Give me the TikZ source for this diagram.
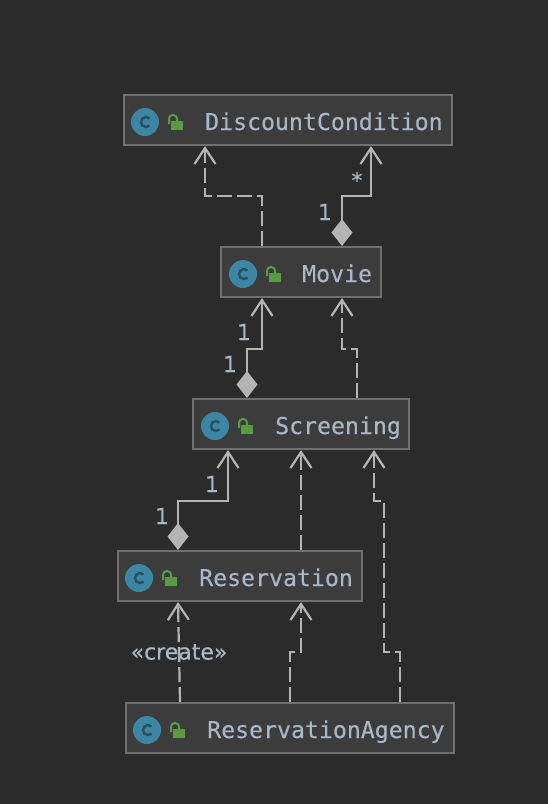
\documentclass[tikz,border=0pt]{standalone}
\usepackage{fontspec}
\setmainfont[FakeBold=0.25]{DejaVu Sans}
\newfontfamily\codefont[FakeBold=0.25]{DejaVu Sans Mono}
\usetikzlibrary{arrows.meta,calc}
\definecolor{bgc}{HTML}{2B2B2B}
\definecolor{boxc}{HTML}{3C3C3C}
\definecolor{edgec}{HTML}{707070}
\definecolor{linec}{HTML}{B4B4B4}
\definecolor{textc}{HTML}{A9B7C6}
\definecolor{iconc}{HTML}{3B86A3}
\definecolor{darkc}{HTML}{2C4F60}
\definecolor{lockc}{HTML}{599A42}
\tikzset{
  x=1pt,y=-1pt,
  classbox/.style={draw=edgec,fill=boxc,line width=2pt,minimum height=50pt,inner sep=0pt,outer sep=1pt},
  classname/.style={anchor=base west,inner sep=0pt,text=textc,font=\codefont\fontsize{23.2}{23.2}\selectfont},
  rellabel/.style={inner sep=0pt,text=textc,font=\fontsize{22}{22}\selectfont},
  dep/.style={draw=linec,line width=2.2pt,dash pattern=on 15pt off 5pt,-{Straight Barb[length=16pt,width=21pt,line width=2.2pt,line join=miter]}},
  comp/.style={draw=linec,line width=2.2pt,{Diamond[length=27pt,width=21pt,fill=linec]}-{Straight Barb[length=16pt,width=21pt,line width=2.2pt]}},
  pics/classicon/.style={code={
    \fill[iconc] (0,0) circle[radius=14];
    \draw[darkc,line width=2.4pt] (4.5,-3.5) arc[start angle=-45,end angle=-315,radius=5];
    \fill[lockc] (26,-1) rectangle (38,8);
    \draw[lockc,line width=2pt] (24,2) -- (24,-3.5) arc[start angle=180,end angle=0,x radius=4,y radius=-3.5] -- (32,-1);
  }}
}
\begin{document}
\begin{tikzpicture}
\useasboundingbox (0,0) rectangle (548,804);
\fill[bgc] (0,0) rectangle (548,804);

\node[classbox,minimum width=328pt] (dc) at (288,120) {};
\node[classbox,minimum width=160pt] (mv) at (301,272) {};
\node[classbox,minimum width=216pt] (sc) at (301,424) {};
\node[classbox,minimum width=244pt] (rs) at (240,576) {};
\node[classbox,minimum width=328pt] (ag) at (290,728) {};

\pic at (145,122) {classicon};
\pic at (243,274) {classicon};
\pic at (215,426) {classicon};
\pic at (139,578) {classicon};
\pic at (147,730) {classicon};

\node[classname] (dct) at (205,130) {DiscountCondition};
\node[classname] (mvt) at (302,282) {Movie};
\node[classname] (sct) at (275,434) {Screening};
\node[classname] (rst) at (199,586) {Reservation};
\node[classname] (agt) at (207,738) {ReservationAgency};

% Movie -> DiscountCondition
\draw[dep] ([xshift=-39pt]mv.north) |- ++(0,-50) -| ([xshift=-83pt]dc.south);
\draw[comp] ([xshift=41pt]mv.north) -- ++(0,-50) -| ([xshift=83pt]dc.south);
% Screening -> Movie
\draw[comp] ([xshift=-54pt]sc.north) -- ++(0,-49) -| ([xshift=-39pt]mv.south);
\draw[dep] ([xshift=56pt]sc.north) -- ++(0,-49) -| ([xshift=41pt]mv.south);
% Reservation -> Screening
\draw[comp] ([xshift=-62pt]rs.north) -- ++(0,-49) -| ([xshift=-73pt]sc.south);
\draw[dep] ([xshift=61pt]rs.north) -- ([xshift=0pt]sc.south);
% ReservationAgency -> others
\draw[dep] ([xshift=110pt]ag.north) -- ++(0,-50) -- ++(-16,0) -- ++(0,-151) -- ++(-10,0) -- ([xshift=73pt]sc.south);
\draw[dep] ([xshift=0pt]ag.north) -- ++(0,-50) -- ++(11,0) -- ([xshift=61pt]rs.south);
\draw[dep] ([xshift=-110pt]ag.north) -- ([xshift=-62pt]rs.south);

\node[rellabel] (l1) at (357,180) {*};
\node[rellabel] (l2) at (325,212) {1};
\node[rellabel] (l3) at (244,332) {1};
\node[rellabel] (l4) at (230,364) {1};
\node[rellabel] (l5) at (212,484) {1};
\node[rellabel] (l6) at (162,516) {1};
\node[rellabel] (l7) at (179,652) {«create»};
\end{tikzpicture}
\end{document}
